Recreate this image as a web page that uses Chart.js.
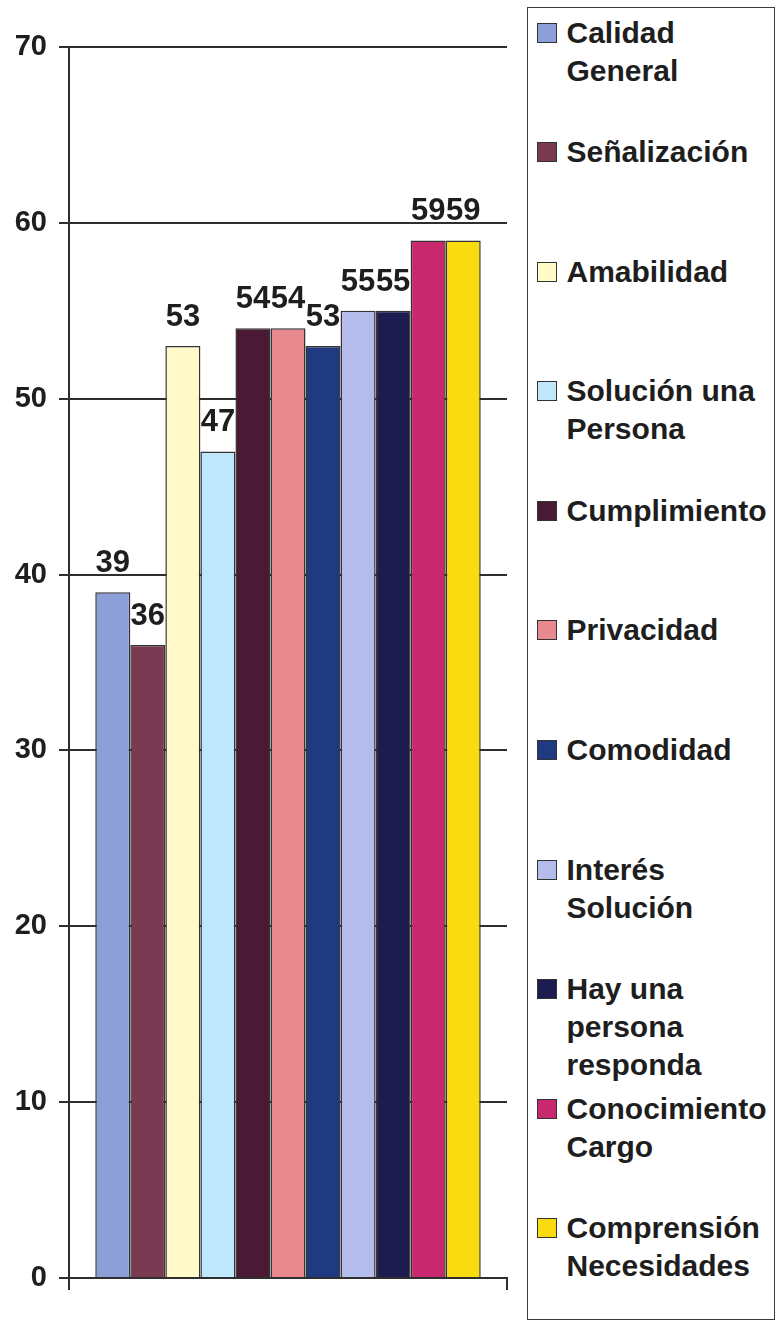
<!DOCTYPE html>
<html>
<head>
<meta charset="utf-8">
<script src="https://cdn.jsdelivr.net/npm/chart.js@4"></script>
<style>
  body { margin: 0; background: #fff; }
  #wrap { position: relative; width: 777px; height: 1322px; overflow: hidden; }
  #bar-chart { position: absolute; left: 0; top: 0; }
  #legend {
    position: absolute; left: 527px; top: 7px; width: 248px; height: 1313px;
    border: 1.5px solid #3c3c3c; box-sizing: border-box;
  }
  #legend ul { list-style: none; margin: 5.5px 0 0 0; padding: 0; }
  #legend li {
    position: relative; height: 119.6px; padding-left: 38.5px;
    font: bold 30px/38px "Liberation Sans", Arial, sans-serif; color: #1e1e1e;
    white-space: pre-line;
  }
  #legend li .swatch {
    position: absolute; left: 9px; top: 9px; width: 20px; height: 20px;
    border: 1.5px solid #333; box-sizing: border-box;
  }
</style>
</head>
<body>
<div id="wrap">
  <canvas id="bar-chart" width="520" height="1322"></canvas>
  <div id="legend"></div>
</div>
<script>
const seriesNames = [
  "Calidad\nGeneral", "Señalización", "Amabilidad", "Solución una\nPersona",
  "Cumplimiento", "Privacidad", "Comodidad", "Interés\nSolución",
  "Hay una\npersona\nresponda", "Conocimiento\nCargo", "Comprensión\nNecesidades"
];
const seriesValues = [39, 36, 53, 47, 54, 54, 53, 55, 55, 59, 59];
const seriesColors = [
  "#8c9fd8", "#7a3a52", "#fffac8", "#bfe6fa", "#4a1a35", "#e8888f",
  "#1f3a80", "#b4bcec", "#1c1c50", "#c8286e", "#f8dc10"
];
const yMin = 0, yMax = 70, yStep = 10;

// numbers above each bar
const valueLabels = {
  id: "valueLabels",
  afterDatasetsDraw(chart) {
    const ctx = chart.ctx;
    ctx.save();
    ctx.font = 'bold 31px "Liberation Sans", Arial, sans-serif';
    ctx.fillStyle = "#1e1e1e";
    ctx.textAlign = "center";
    ctx.textBaseline = "alphabetic";
    chart.data.datasets.forEach((ds, i) => {
      const bar = chart.getDatasetMeta(i).data[0];
      ctx.fillText(ds.data[0], bar.x, bar.y - 20);
    });
    ctx.restore();
  }
};

const barChart = new Chart(document.getElementById("bar-chart"), {
  type: "bar",
  data: {
    labels: [""],
    datasets: seriesNames.map((name, i) => ({
      label: name,
      data: [seriesValues[i]],
      backgroundColor: seriesColors[i],
      borderColor: "#333",
      borderWidth: 1.5,
      categoryPercentage: 0.88,
      barPercentage: 1.0,
    })),
  },
  options: {
    responsive: false,
    animation: false,
    layout: { padding: { top: 47, right: 13, bottom: 32, left: 0 } },
    plugins: { legend: { display: false }, tooltip: { enabled: false } },
    scales: {
      x: {
        ticks: { display: false },
        grid: { offset: true, drawOnChartArea: false, tickLength: 12, color: "#2e2e2e", lineWidth: 2 },
        border: { display: true, color: "#2e2e2e", width: 2 },
      },
      y: {
        min: yMin,
        max: yMax,
        afterFit: (scale) => { scale.width = 69; },
        ticks: {
          stepSize: yStep,
          padding: 12,
          color: "#1e1e1e",
          font: { family: '"Liberation Sans", Arial, sans-serif', size: 29, weight: "bold" },
        },
        grid: { color: "#2e2e2e", lineWidth: 2, tickLength: 10 },
        border: { display: true, color: "#2e2e2e", width: 2 },
      },
    },
  },
  plugins: [valueLabels],
});

// html legend built from the datasets
const legendList = document.createElement("ul");
barChart.data.datasets.forEach((ds) => {
  const item = document.createElement("li");
  const swatch = document.createElement("span");
  swatch.className = "swatch";
  swatch.style.background = ds.backgroundColor;
  item.appendChild(swatch);
  item.appendChild(document.createTextNode(ds.label));
  legendList.appendChild(item);
});
document.getElementById("legend").appendChild(legendList);
</script>
</body>
</html>
